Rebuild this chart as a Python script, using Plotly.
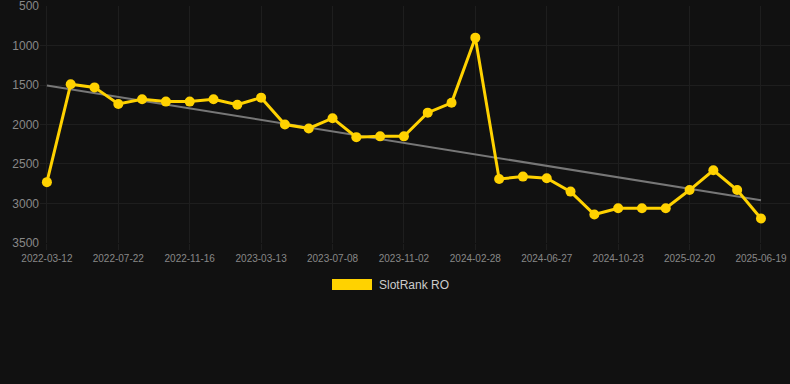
import numpy as np
import plotly.graph_objects as go

dates = [
    "2022-03-12", "2022-04-26", "2022-06-08", "2022-07-22", "2022-08-30", "2022-10-08",
    "2022-11-16", "2022-12-25", "2023-02-02", "2023-03-13", "2023-04-21", "2023-05-30",
    "2023-07-08", "2023-08-16", "2023-09-24", "2023-11-02", "2023-12-11", "2024-01-19",
    "2024-02-28", "2024-04-08", "2024-05-18", "2024-06-27", "2024-08-05", "2024-09-14",
    "2024-10-23", "2024-12-01", "2025-01-11", "2025-02-20", "2025-03-31", "2025-05-10",
    "2025-06-19",
]
rank = [
    2730, 1490, 1530, 1740, 1680, 1710, 1710, 1680, 1750, 1660,
    2000, 2050, 1920, 2160, 2150, 2150, 1850, 1725, 900, 2690,
    2660, 2680, 2850, 3140, 3060, 3060, 3060, 2830, 2580, 2830,
    3190,
]
tick_labels = dates[::3]
y_ticks = [500, 1000, 1500, 2000, 2500, 3000, 3500]
series_name = "SlotRank RO"

idx = np.arange(len(rank))
slope, intercept = np.polyfit(idx, rank, 1)
trend = slope * idx + intercept

fig = go.Figure()
fig.add_trace(go.Scatter(
    x=dates, y=trend, mode="lines",
    line=dict(color="#777777", width=2), hoverinfo="skip", showlegend=False,
))
fig.add_trace(go.Scatter(
    x=dates, y=rank, mode="lines+markers", name=series_name,
    line=dict(color="#FFD200", width=3),
    marker=dict(color="#FFD200", size=10),
    showlegend=False,
))

fig.update_layout(
    width=790, height=384,
    margin=dict(l=40, r=0, t=6, b=141),
    paper_bgcolor="#111111", plot_bgcolor="#111111",
    font=dict(family="Liberation Sans, Arial, sans-serif", color="#888888"),
    xaxis=dict(
        type="category", range=[-0.29, 31.22],
        tickmode="array", tickvals=tick_labels, ticktext=tick_labels,
        tickfont=dict(size=10, color="#888888"),
        showgrid=True, gridcolor="#1e1e1e", gridwidth=1,
        zeroline=False, showline=False, ticks="outside", ticklen=6,
        tickcolor="#1e1e1e", ticklabeloverflow="allow",
    ),
    yaxis=dict(
        range=[3501, 499], tickvals=y_ticks,
        tickfont=dict(size=12, color="#888888"),
        showgrid=True, gridcolor="#1e1e1e", gridwidth=1,
        zeroline=False, showline=False, ticks="",
        ticklabeloverflow="allow",
    ),
    shapes=[dict(
        type="rect", xref="paper", yref="paper",
        x0=(332 - 40) / 750, x1=(372 - 40) / 750,
        y0=(384 - 141 - 290) / 237, y1=(384 - 141 - 279) / 237,
        fillcolor="#FFD200", line=dict(width=0),
    )],
    annotations=[dict(
        text=series_name, xref="paper", yref="paper",
        x=(377 - 40) / 750, y=(384 - 141 - 284.5) / 237,
        xanchor="left", yanchor="middle", showarrow=False,
        font=dict(size=12, color="#CCCCCC"),
    )],
)

fig.write_html(
    "out.html",
    config={"displayModeBar": False},
    post_script="document.body.style.margin='0';document.body.style.background='#111111';",
)
